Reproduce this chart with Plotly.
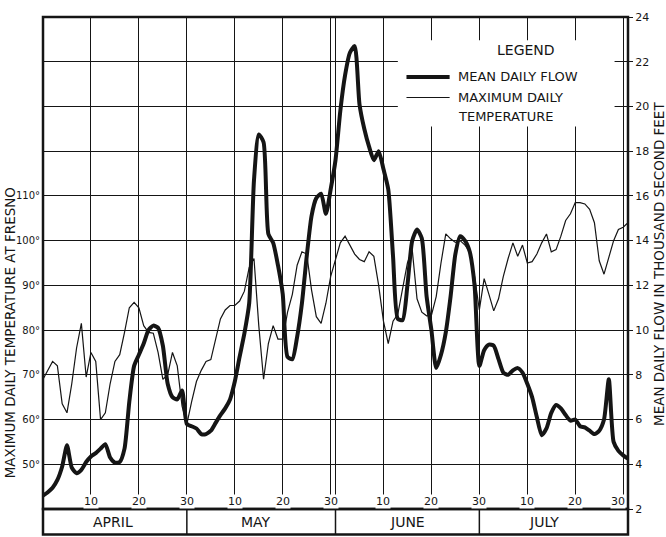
import plotly.graph_objects as go

# Day index: 0 = start of April, 30 = April 30, 61 = May 31, 91 = June 30, 122 = July 31
days = list(range(0, 123))

flow = [2.6, 2.75, 2.95, 3.3, 3.9, 4.85, 3.85, 3.6, 3.75, 4.1,
        4.35, 4.5, 4.7, 4.9, 4.3, 4.07, 4.1, 4.7, 6.8, 8.4,
        8.9, 9.4, 10.0, 10.2, 10.1, 9.3, 7.6, 7.0, 6.9, 7.3,
        5.8, 5.7, 5.6, 5.35, 5.35, 5.5, 5.85, 6.2, 6.5, 6.9,
        7.7, 8.8, 9.85, 11.2, 16.7, 18.75, 18.4, 14.3, 13.9, 12.9,
        11.6, 8.8, 8.7, 9.7, 11.2, 13.3, 15.1, 15.9, 16.1, 15.2,
        16.3, 17.6, 19.8, 21.4, 22.4, 22.7, 20.1, 19.0, 18.2, 17.6,
        18.0, 17.2, 16.3, 13.3, 10.5, 10.45, 12.0, 14.0, 14.5, 14.1,
        11.5, 10.0, 8.3, 8.9, 9.9, 11.5, 13.4, 14.2, 14.0, 13.5,
        12.0, 8.4, 9.1, 9.35, 9.3, 8.7, 8.1, 8.0, 8.2, 8.3,
        8.1, 7.6, 7.0, 6.1, 5.3, 5.6, 6.3, 6.65, 6.5, 6.2,
        5.95, 6.0, 5.7, 5.65, 5.5, 5.35, 5.5, 6.0, 7.8, 5.0,
        4.6, 4.4, 4.25]

temp = [69, 71, 73, 72, 63.5, 61.5, 68, 76, 81.5, 69.5,
        75, 73, 60, 61.5, 68, 73, 74.5, 79.5, 85, 86.2,
        85, 81, 79.5, 79.3, 75, 69, 70, 75, 72, 63,
        59, 64, 68.5, 71, 73, 73.4, 78, 82.5, 84.5, 85.5,
        85.5, 86.5, 88.7, 94, 96, 81, 69, 77, 81, 78,
        78, 84, 88, 94.5, 97.5, 97, 89, 83, 81.5, 86,
        92, 95.5, 99.5, 101, 99, 97, 95.8, 95.3, 97.5, 96.5,
        90, 82, 77, 82, 83.6, 89, 95, 98, 87, 84,
        83.2, 83.3, 87.5, 95, 101.5, 100.4, 99.6, 100, 99, 97.5,
        92, 84.5, 91.5, 88, 84.3, 87, 92, 96, 99.5, 96.5,
        99, 95, 95.3, 97, 99.5, 101.5, 97.5, 98, 101, 104.5,
        106, 108.5, 108.5, 108.2, 107, 104, 95.5, 92.5, 96.5, 100,
        102.5, 103, 104]

grid_days = [10, 20, 30, 40, 50, 60, 61, 71, 81, 91, 101, 111, 121]
day_label_pos = [10, 20, 30, 40, 50, 60, 71, 81, 91, 101, 111, 120]
day_labels = ["10", "20", "30", "10", "20", "30", "10", "20", "30", "10", "20", "30"]
month_names = ["APRIL", "MAY", "JUNE", "JULY"]
month_label_pos = [14.5, 44.5, 76, 104.5]
month_bounds = [30, 61, 91]
temp_ticks = [50, 60, 70, 80, 90, 100, 110]
temp_labels = ["50°", "60°", "70°", "80°", "90°", "100°", "110°"]
flow_ticks = list(range(2, 25, 2))

ink = "#151515"

fig = go.Figure()
fig.add_trace(go.Scatter(x=days, y=temp, mode="lines", yaxis="y",
                         line=dict(color=ink, width=1.2), name="MAXIMUM DAILY TEMPERATURE"))
fig.add_trace(go.Scatter(x=days, y=flow, mode="lines", yaxis="y2",
                         line=dict(color=ink, width=4, shape="spline", smoothing=0.6),
                         name="MEAN DAILY FLOW"))

shapes = []
# plot frame
shapes.append(dict(type="rect", xref="paper", yref="paper", x0=0, x1=1, y0=0, y1=1,
                   line=dict(color=ink, width=2.5), layer="above"))
# month strip
shapes.append(dict(type="rect", xref="paper", yref="paper", x0=0, x1=1, y0=-0.052, y1=0,
                   line=dict(color=ink, width=2.5), layer="above"))
for b in month_bounds:
    shapes.append(dict(type="line", xref="x", yref="paper", x0=b, x1=b, y0=-0.052, y1=0,
                       line=dict(color=ink, width=1.5), layer="above"))
# legend box (white, hides grid)
shapes.append(dict(type="rect", xref="x", yref="y2", x0=74, x1=119.2, y0=19.1, y1=22.96,
                   fillcolor="white", line=dict(width=0), layer="above"))
shapes.append(dict(type="line", xref="x", yref="y2", x0=75.8, x1=84.8, y0=21.32, y1=21.32,
                   line=dict(color=ink, width=4), layer="above"))
shapes.append(dict(type="line", xref="x", yref="y2", x0=75.8, x1=84.8, y0=20.4, y1=20.4,
                   line=dict(color=ink, width=1.2), layer="above"))

annotations = []
for p, t in zip(day_label_pos, day_labels):
    annotations.append(dict(x=p, y=2.32, xref="x", yref="y2", text=t, showarrow=False,
                            xanchor="center", yanchor="middle",
                            font=dict(size=11, color=ink), bgcolor="white", borderpad=0))
for p, t in zip(month_label_pos, month_names):
    annotations.append(dict(x=p, y=-0.026, xref="x", yref="paper", text=t, showarrow=False,
                            xanchor="center", yanchor="middle",
                            font=dict(size=14, color=ink)))
annotations.append(dict(x=100.8, y=22.52, xref="x", yref="y2", text="LEGEND", showarrow=False,
                        xanchor="center", yanchor="middle", font=dict(size=14, color=ink)))
annotations.append(dict(x=86.2, y=21.32, xref="x", yref="y2", text="MEAN DAILY FLOW", showarrow=False,
                        xanchor="left", yanchor="middle", font=dict(size=13, color=ink)))
annotations.append(dict(x=86.2, y=20.4, xref="x", yref="y2", text="MAXIMUM DAILY", showarrow=False,
                        xanchor="left", yanchor="middle", font=dict(size=13, color=ink)))
annotations.append(dict(x=86.2, y=19.55, xref="x", yref="y2", text="TEMPERATURE", showarrow=False,
                        xanchor="left", yanchor="middle", font=dict(size=13, color=ink)))
annotations.append(dict(x=-0.0564, y=0.357, xref="paper", yref="paper",
                        text="MAXIMUM DAILY TEMPERATURE AT FRESNO", textangle=-90, showarrow=False,
                        xanchor="center", yanchor="middle",
                        font=dict(size=13.5, color=ink)))
annotations.append(dict(x=1.0530, y=0.498, xref="paper", yref="paper",
                        text="MEAN DAILY FLOW IN THOUSAND SECOND FEET", textangle=-90, showarrow=False,
                        xanchor="center", yanchor="middle",
                        font=dict(size=13.5, color=ink)))

fig.update_layout(
    width=666, height=537,
    margin=dict(l=43, r=38, t=11, b=28),
    paper_bgcolor="white", plot_bgcolor="white",
    showlegend=False,
    font=dict(family="DejaVu Sans", color=ink),
    xaxis=dict(range=[0, 122], tickvals=grid_days, showticklabels=False, showgrid=True,
               gridcolor=ink, gridwidth=1.3, zeroline=False, ticks="", showline=False),
    yaxis=dict(range=[40, 150], tickvals=temp_ticks, ticktext=temp_labels, showgrid=False,
               zeroline=False, ticks="", ticklabelstandoff=2,
               tickfont=dict(size=10, color=ink), showline=False),
    yaxis2=dict(range=[2, 24], overlaying="y", side="right", tickvals=flow_ticks, showgrid=True,
                gridcolor=ink, gridwidth=1.3, zeroline=False, ticks="outside", ticklen=4,
                tickcolor=ink, tickfont=dict(size=11, color=ink), showline=False),
    shapes=shapes,
    annotations=annotations,
)

fig.write_html("out.html")
